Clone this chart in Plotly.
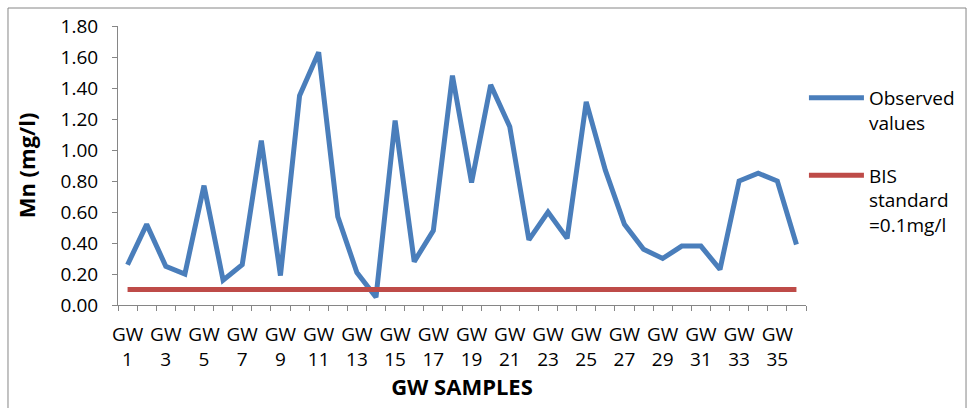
import plotly.graph_objects as go

# ---- data ----
sample_ids = [1, 2, 3, 4, 5, 6, 7, 8, 9, 10, 11, 12, 13, 14, 15, 16, 17, 18,
              19, 20, 21, 22, 23, 24, 25, 26, 27, 28, 29, 30, 31, 32, 33, 34, 35, 36]
observed = [0.26, 0.52, 0.25, 0.20, 0.77, 0.16, 0.26, 1.06, 0.19, 1.35, 1.63, 0.57,
            0.21, 0.05, 1.19, 0.28, 0.48, 1.48, 0.79, 1.42, 1.15, 0.42, 0.60, 0.43,
            1.31, 0.87, 0.52, 0.36, 0.30, 0.38, 0.38, 0.23, 0.80, 0.85, 0.80, 0.39]
bis_standard = [0.1] * len(sample_ids)
y_ticks = [0.0, 0.2, 0.4, 0.6, 0.8, 1.0, 1.2, 1.4, 1.6, 1.8]
label_ids = sample_ids[::2]
x_ticktext = [f"GW<br>{i}" for i in label_ids]
boundaries = [i - 0.5 for i in sample_ids] + [sample_ids[-1] + 0.5]

BLUE = "#4A7EBB"
RED = "#BE4B48"
AXIS = "#868686"
FONT = "Open Sans"

fig = go.Figure()
fig.add_trace(go.Scatter(x=sample_ids, y=observed, mode="lines",
                         name="Observed<br>values", legendgroup="obs",
                         line=dict(color=BLUE, width=5)))
fig.add_trace(go.Scatter(x=sample_ids, y=bis_standard, mode="lines",
                         name="BIS<br>standard<br>=0.1mg/l", legendgroup="bis",
                         line=dict(color=RED, width=5)))

fig.update_layout(
    width=969, height=408,
    margin=dict(l=118, r=163, t=26, b=103, autoexpand=False),
    paper_bgcolor="white", plot_bgcolor="white",
    font=dict(family=FONT, size=19, color="#000000"),
    showlegend=True,
    legend=dict(x=0.997, y=0.81, xanchor="left", yanchor="top",
                valign="top", font=dict(size=19), itemwidth=55,
                tracegroupgap=25, bgcolor="rgba(0,0,0,0)"),
    shapes=[dict(type="rect", xref="paper", yref="paper",
                 x0=-0.1599, x1=1.2326, y0=-0.45, y1=1.0645,
                 line=dict(color=AXIS, width=1), fillcolor="rgba(0,0,0,0)",
                 layer="below")],
)

fig.update_xaxes(
    range=[boundaries[0], boundaries[-1]],
    tickmode="array", tickvals=label_ids, ticktext=x_ticktext,
    ticks="", ticklabelstandoff=12,
    showgrid=False, zeroline=False,
    showline=True, linecolor=AXIS, linewidth=1,
    minor=dict(tickmode="array", tickvals=boundaries, ticks="outside",
               ticklen=5, tickcolor=AXIS, showgrid=False),
    title=dict(text="<b>GW SAMPLES</b>", font=dict(size=22), standoff=6),
    automargin=False,
)
fig.update_yaxes(
    range=[0, 1.8],
    tickmode="array", tickvals=y_ticks,
    ticktext=[f"{v:.2f}" for v in y_ticks],
    ticks="outside", ticklen=5, tickcolor=AXIS, ticklabelstandoff=10,
    showgrid=False, zeroline=False,
    showline=True, linecolor=AXIS, linewidth=1,
    title=dict(text="<b>Mn (mg/l)</b>", font=dict(size=22), standoff=18),
    automargin=False,
)

fig.write_html("out.html")
